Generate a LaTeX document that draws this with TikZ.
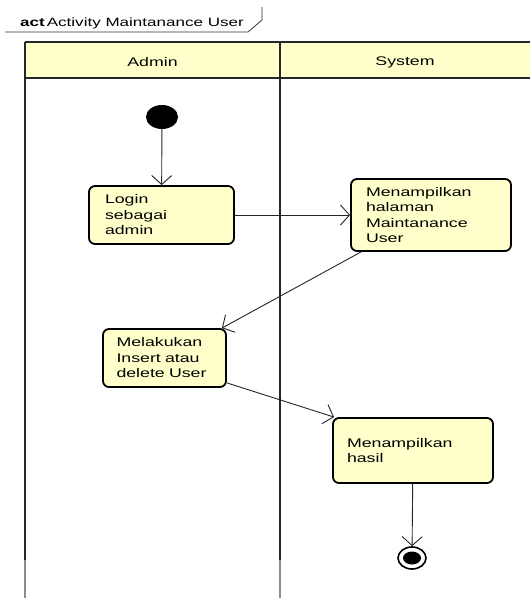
\documentclass[tikz,border=0pt]{standalone}
\usepackage{fontspec}
\setmainfont{Liberation Sans}[FakeStretch=1.42]
\usetikzlibrary{arrows.meta,shapes.geometric}
\definecolor{umlyellow}{RGB}{255,255,204}
\tikzset{
  actbox/.style={draw=black, line width=1.8pt, rounded corners=6pt, fill=umlyellow,
    align=left, inner ysep=0pt, font=\fontsize{12.5}{15.5}\selectfont},
  flow/.style={draw=black!85, line width=0.9pt,
    -{Straight Barb[length=9pt,width=20pt,line width=0.9pt]}},
  lanel/.style={line width=2.8pt, draw=black!85},
  lanegray/.style={line width=2.8pt, draw=black!45},
  lanetext/.style={font=\fontsize{12.5}{15}\selectfont},
}
\begin{document}
\begin{tikzpicture}[x=1pt,y=-1pt]
\useasboundingbox (0,0) rectangle (530,598);
\begin{scope}
\clip (0,0) rectangle (530,598);
% title frame
\draw[black!80, line width=0.8pt] (5,32) -- (248,32) -- (262,20) -- (262,7);
\node[anchor=base west, inner sep=0pt, font=\fontsize{12}{14}\selectfont] (title) at (20,26) {\textbf{act}\,Activity Maintanance User};
% swimlanes
\fill[umlyellow] (25,42) rectangle (545,78);
\draw[lanel] (25,42) -- (545,42);
\draw[lanel] (25,78) -- (545,78);
\draw[lanel] (25,42) -- (25,560);
\draw[lanel] (280,42) -- (280,560);
\draw[lanegray] (25,560) -- (25,600);
\draw[lanegray] (280,560) -- (280,600);
\node[lanetext] (adminlane) at (152.5,62) {Admin};
\node[lanetext] (systemlane) at (405,62) {System};
% nodes
\node[ellipse, fill=black, minimum width=32pt, minimum height=24pt, inner sep=0pt] (start) at (162,117) {};
\node[actbox, text width=113pt, inner xsep=16pt, minimum height=58pt] (login) at (161.5,215) {Login\\sebagai\\admin};
\node[actbox, text width=130pt, inner xsep=15pt, minimum height=72pt] (halaman) at (431,215) {Menampilkan\\halaman\\Maintanance\\User};
\node[actbox, text width=96pt, inner xsep=13.5pt, minimum height=58pt] (insert) at (164.5,358) {Melakukan\\Insert atau\\delete User};
\node[actbox, text width=132pt, inner xsep=14pt, minimum height=65pt] (hasil) at (413,450.5) {Menampilkan\\hasil};
\node[ellipse, draw=black, line width=1.6pt, fill=white, minimum width=28pt, minimum height=22pt, inner sep=0pt] (end) at (412,558) {};
\node[ellipse, fill=black, minimum width=18pt, minimum height=13pt, inner sep=0pt] (endin) at (end.center) {};
% connectors
\draw[flow] (start) -- (login);
\draw[flow] (login.east) -- (halaman.west);
\draw[flow] ([xshift=11pt]halaman.south west) -- ([xshift=-5pt]insert.north east);
\draw[flow] ([yshift=5pt]insert.south east) -- ([xshift=2pt]hasil.north west);
\draw[flow] (hasil) -- (end);
\end{scope}
\end{tikzpicture}
\end{document}
